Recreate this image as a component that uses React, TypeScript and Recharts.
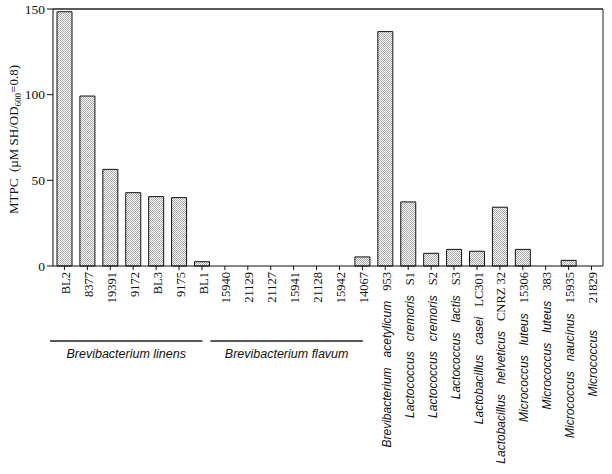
import React from 'react';
import { BarChart, Bar, XAxis, YAxis, ReferenceLine } from 'recharts';

// strain codes shown at the tick, species name (italic) before it
const strains = [
  'BL2', '8377', '19391', '9172', 'BL3', '9175', 'BL1',
  '15940', '21129', '21127', '15941', '21128', '15942', '14067',
  '953', 'S1', 'S2', 'S3', 'LC301', 'CNRZ 32', '15306', '383', '15935', '21829',
];
const species = [
  '', '', '', '', '', '', '',
  '', '', '', '', '', '', '',
  'Brevibacterium   acetylicum', 'Lactococcus   cremoris', 'Lactococcus   cremoris',
  'Lactococcus   lactis', 'Lactobacillus   casei', 'Lactobacillus   helveticus',
  'Micrococcus   luteus', 'Micrococcus   luteus', 'Micrococcus   naucinus', 'Micrococcus     ',
];
const mtpc = [
  148.4, 99.2, 56.4, 42.8, 40.5, 39.9, 2.5,
  0, 0, 0, 0, 0, 0, 5.3,
  136.8, 37.4, 7.4, 9.7, 8.6, 34.3, 9.7, 0, 3.3, 0,
];
const yTicks = [0, 50, 100, 150];

const groupNames = ['Brevibacterium linens', 'Brevibacterium flavum'];
const groupStart = [0, 7];
const groupEnd = [6, 13];

const data = strains.map((s, i) => ({ id: i, strain: s, value: mtpc[i] }));

const W = 612;
const H = 474;
const PLOT_LEFT = 53;
const PLOT_RIGHT = 603;
const PLOT_TOP = 9;
const X_AXIS_H = 208;
const band = (PLOT_RIGHT - PLOT_LEFT) / strains.length;
const serif = '"Liberation Serif", "Times New Roman", serif';
const sans = '"Liberation Sans", Arial, sans-serif';

const StrainTick = (props: any) => {
  const { x, y, index } = props;
  const i = index;
  const g = groupStart.indexOf(i);
  const last = i === strains.length - 1;
  return (
    <g>
      {last && (
        <path d={`M${PLOT_LEFT},${PLOT_TOP}H${x + band / 2}V${y - 6}`} fill="none" stroke="#222" strokeWidth={1} />
      )}
      <text
        transform={`translate(${x},${y}) rotate(-90)`}
        textAnchor="end"
        dy="0.35em"
        xmlSpace="preserve"
        style={{ whiteSpace: 'pre' }}
        fill="#111"
      >
        {species[i] ? (
          <tspan style={{ fontFamily: sans, fontStyle: 'italic', fontSize: 12 }}>{species[i] + '   '}</tspan>
        ) : null}
        <tspan style={{ fontFamily: serif, fontSize: 12.5 }}>{strains[i]}</tspan>
      </text>
      {g >= 0 && (() => {
        const x1 = x - band / 2 - 3;
        const x2 = x + (groupEnd[g] - groupStart[g]) * band + band / 2 - 11;
        return (
          <g>
            <line x1={x1} x2={x2} y1={y + 69} y2={y + 69} stroke="#222" strokeWidth={1.3} />
            <text x={(x1 + x2) / 2} y={y + 86} textAnchor="middle" fill="#111"
              style={{ fontFamily: sans, fontStyle: 'italic', fontSize: 12.5 }}>
              {groupNames[g]}
            </text>
          </g>
        );
      })()}
    </g>
  );
};

const ValueTick = (props: any) => {
  const { x, y, payload } = props;
  return (
    <text x={x} y={y} dy="0.35em" textAnchor="end" fill="#111" fontFamily={serif} fontSize={13.5}
      style={{ fontFamily: serif, fontSize: 13.5 }}>
      {payload.value}
    </text>
  );
};

const YTitle = (props: any) => {
  const vb = props.viewBox || { y: 9, height: 257 };
  const cy = vb.y + vb.height / 2 + 2;
  return (
    <text transform={`translate(13,${cy}) rotate(-90)`} textAnchor="middle" dy="0.35em"
      fill="#111" xmlSpace="preserve" style={{ whiteSpace: 'pre', fontFamily: serif, fontSize: 13 }}>
      MTPC  (µM SH/OD<tspan dy={3} style={{ fontSize: 9 }}>600</tspan><tspan dy={-3}>=0.8)</tspan>
    </text>
  );
};

export default function App() {
  return (
    <div style={{ position: 'absolute', left: 0, top: 0, width: W, height: H, background: '#fff' }}>
      <BarChart width={W} height={H} data={data}
        margin={{ top: PLOT_TOP, right: W - PLOT_RIGHT, left: 13, bottom: 0 }}>
        <defs>
          <pattern id="stipple" width="2" height="2" patternUnits="userSpaceOnUse">
            <rect width="2" height="2" fill="#fff" />
            <rect x="0" y="0" width="1" height="1" fill="#a8a8a8" />
            <rect x="1" y="1" width="1" height="1" fill="#a8a8a8" />
          </pattern>
        </defs>
        <XAxis
          dataKey="id"
          type="category"
          interval={0}
          height={X_AXIS_H}
          tickSize={4}
          tickMargin={2}
          tick={<StrainTick />}
          axisLine={{ stroke: '#111' }}
          tickLine={{ stroke: '#111' }}
        />
        <YAxis
          domain={[0, 150]}
          ticks={yTicks}
          width={40}
          tickSize={6}
          tickMargin={2}
          tick={<ValueTick />}
          axisLine={{ stroke: '#111' }}
          tickLine={{ stroke: '#111' }}
          label={<YTitle />}
        />
        <Bar dataKey="value" fill="url(#stipple)" stroke="#111" strokeWidth={1} barSize={15}
          isAnimationActive={false} />
        <ReferenceLine y={150} stroke="#222" strokeWidth={1} />
      </BarChart>
    </div>
  );
}
